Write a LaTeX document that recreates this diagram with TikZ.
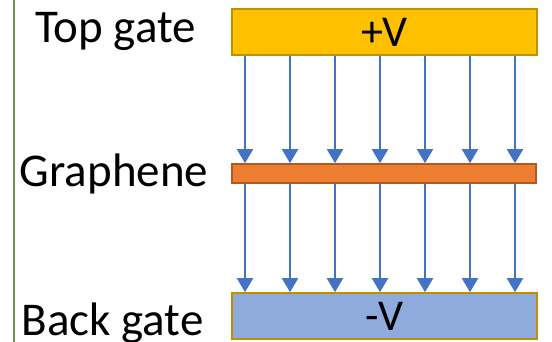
\documentclass[tikz,border=0pt]{standalone}
\usepackage{fontspec}
\setmainfont{Carlito}
\usepackage{xcolor}
\usepackage{tikz}
\usetikzlibrary{arrows.meta,positioning}
\definecolor{gateyellow}{RGB}{255, 192, 0}
\definecolor{gategold}{RGB}{191, 144, 0}
\definecolor{grapheneorange}{RGB}{237, 125, 49}
\definecolor{grapheneedge}{RGB}{174, 90, 33}
\definecolor{backblue}{RGB}{143, 170, 220}
\definecolor{fieldblue}{RGB}{68, 114, 196}
\definecolor{frameleft}{RGB}{106, 153, 78}

\begin{document}
\begin{tikzpicture}[x=1pt,y=1pt,
    plate/.style={draw,line width=1.6pt,minimum width=305pt,inner sep=0pt,font=\fontsize{44}{48}\selectfont},
    sidelabel/.style={anchor=base,inner sep=0pt,font=\fontsize{47}{50}\selectfont},
    field/.style={draw=fieldblue,line width=2pt,-{Triangle[width=16pt,length=14pt]}}]
    \useasboundingbox (0,0) rectangle (552,342);
    % Frame edge on the left
    \draw[frameleft,line width=2pt] (14,0) -- (14,342);

    % Gates and graphene sheet
    \node[plate,fill=gateyellow,draw=gategold,minimum height=46pt] (topgate) at (384.5,310) {+V};
    \node[plate,fill=grapheneorange,draw=grapheneedge,minimum height=19pt,minimum width=304pt] (graphene) at (384,168.5) {};
    \node[plate,fill=backblue,draw=gategold,minimum height=46pt] (backgate) at (384.5,26) {-V};

    \node[sidelabel] (toplabel) at (115.5,299) {Top gate};
    \node[sidelabel] (graphenelabel) at (114,155) {Graphene};
    \node[sidelabel] (backlabel) at (112.5,6) {Back gate};

    % Field lines, top gate to graphene
    \coordinate (f1) at (245,0);
    \coordinate (f2) at (290,0);
    \coordinate (f3) at (335,0);
    \coordinate (f4) at (380,0);
    \coordinate (f5) at (425,0);
    \coordinate (f6) at (470,0);
    \coordinate (f7) at (515,0);
    \draw[field] (topgate.south -| f1) -- (graphene.north -| f1);
    \draw[field] (topgate.south -| f2) -- (graphene.north -| f2);
    \draw[field] (topgate.south -| f3) -- (graphene.north -| f3);
    \draw[field] (topgate.south -| f4) -- (graphene.north -| f4);
    \draw[field] (topgate.south -| f5) -- (graphene.north -| f5);
    \draw[field] (topgate.south -| f6) -- (graphene.north -| f6);
    \draw[field] (topgate.south -| f7) -- (graphene.north -| f7);

    % Field lines, graphene to back gate
    \draw[field] (graphene.south -| f1) -- (backgate.north -| f1);
    \draw[field] (graphene.south -| f2) -- (backgate.north -| f2);
    \draw[field] (graphene.south -| f3) -- (backgate.north -| f3);
    \draw[field] (graphene.south -| f4) -- (backgate.north -| f4);
    \draw[field] (graphene.south -| f5) -- (backgate.north -| f5);
    \draw[field] (graphene.south -| f6) -- (backgate.north -| f6);
    \draw[field] (graphene.south -| f7) -- (backgate.north -| f7);
\end{tikzpicture}
\end{document}
